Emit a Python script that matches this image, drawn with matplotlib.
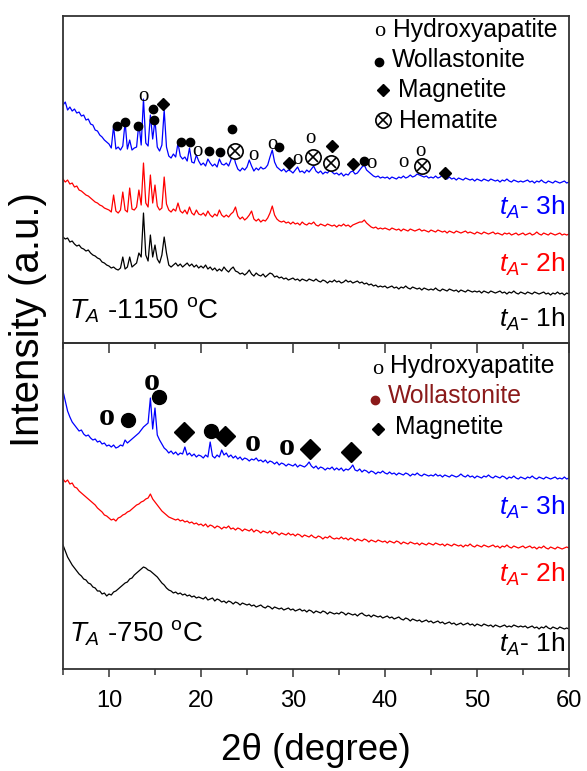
import numpy as np
import matplotlib
matplotlib.use("Agg")
import matplotlib.pyplot as plt
from matplotlib.ticker import MultipleLocator

plt.rcParams["font.family"] = ["Liberation Sans", "DejaVu Sans"]
plt.rcParams["mathtext.fontset"] = "custom"
plt.rcParams["mathtext.rm"] = "Liberation Sans"
plt.rcParams["mathtext.it"] = "Liberation Sans:italic"

# measurement grid: 2theta from 5 to 60 deg, step 0.25
TWO_THETA_START = 5.0
TWO_THETA_STEP = 0.25

# ---------------- T_A = 1150 C (upper panel), offset intensities ----------------
t1150_3h = [
    238, 241, 233, 236, 232, 234, 230, 231, 227, 228, 223, 224, 219, 218, 213, 212, 208, 206, 203, 201,
    199, 195, 217, 194, 196, 193, 197, 221, 194, 203, 193, 195, 196, 220, 198, 244, 200, 197, 228, 204,
    223, 196, 192, 198, 233, 196, 187, 185, 189, 186, 200, 187, 184, 186, 182, 195, 181, 180, 188, 182,
    178, 180, 177, 184, 180, 177, 179, 176, 184, 179, 178, 180, 177, 183, 190, 180, 174, 172, 175, 173,
    176, 183, 177, 172, 175, 173, 176, 174, 175, 178, 186, 193, 181, 176, 174, 172, 174, 171, 173, 172,
    170, 173, 176, 171, 172, 170, 173, 171, 174, 177, 172, 170, 172, 169, 171, 170, 173, 171, 169, 170,
    168, 170, 167, 169, 168, 171, 172, 169, 170, 173, 176, 178, 173, 171, 169, 167, 166, 167, 165, 166,
    165, 166, 164, 166, 165, 164, 166, 165, 167, 165, 166, 168, 166, 167, 169, 168, 167, 166, 167, 165,
    166, 165, 167, 165, 166, 168, 165, 164, 166, 164, 165, 163, 165, 164, 163, 165, 164, 163, 164, 162,
    164, 163, 162, 164, 163, 162, 164, 163, 162, 163, 161, 163, 162, 164, 162, 161, 163, 162, 161, 162,
    161, 162, 163, 161, 162, 160, 162, 161, 163, 161, 160, 162, 161, 160, 162, 161, 160, 161, 162, 160,
    161,
]
t1150_2h = [
    164, 161, 163, 159, 160, 156, 157, 153, 152, 150, 148, 147, 145, 143, 141, 140, 138, 137, 135, 134,
    133, 131, 148, 132, 130, 133, 151, 133, 131, 155, 134, 133, 136, 153, 138, 180, 140, 136, 168, 140,
    158, 137, 133, 135, 166, 139, 133, 131, 134, 132, 140, 132, 130, 133, 129, 136, 130, 128, 133, 129,
    128, 130, 127, 132, 128, 126, 129, 127, 133, 128, 126, 128, 126, 129, 131, 136, 127, 124, 126, 123,
    125, 128, 132, 124, 122, 124, 121, 123, 122, 125, 130, 137, 128, 124, 122, 121, 122, 120, 121, 119,
    121, 119, 120, 118, 121, 119, 118, 120, 119, 121, 118, 117, 119, 118, 117, 119, 118, 117, 118, 116,
    118, 117, 119, 117, 118, 116, 118, 119, 120, 121, 121, 123, 120, 118, 116, 115, 116, 114, 115, 114,
    115, 114, 113, 115, 114, 113, 114, 112, 114, 113, 112, 114, 113, 112, 113, 114, 112, 113, 112, 111,
    113, 112, 111, 113, 112, 111, 112, 110, 112, 111, 110, 112, 111, 110, 111, 112, 110, 111, 110, 109,
    111, 110, 109, 111, 110, 109, 110, 111, 109, 110, 109, 108, 110, 109, 110, 108, 109, 110, 108, 109,
    110, 108, 109, 110, 108, 109, 111, 109, 108, 110, 109, 108, 110, 109, 108, 109, 110, 108, 109, 108,
    109,
]
t1150_1h = [
    106, 104, 105, 101, 102, 99, 97, 98, 95, 94, 92, 93, 90, 88, 87, 85, 84, 81, 80, 78,
    77, 75, 76, 74, 73, 75, 86, 74, 76, 86, 76, 78, 80, 90, 86, 130, 88, 82, 108, 86,
    98, 84, 80, 88, 106, 90, 78, 76, 78, 80, 77, 79, 76, 78, 80, 77, 79, 76, 78, 75,
    77, 75, 78, 74, 76, 73, 75, 72, 74, 72, 76, 73, 71, 74, 76, 72, 71, 69, 70, 68,
    70, 73, 69, 67, 70, 68, 67, 69, 66, 68, 70, 69, 66, 67, 65, 66, 64, 65, 63, 64,
    65, 63, 64, 62, 64, 63, 62, 64, 63, 62, 64, 62, 61, 63, 62, 60, 62, 61, 63, 61,
    62, 60, 61, 63, 61, 62, 60, 61, 62, 60, 61, 59, 60, 58, 59, 57, 58, 56, 57, 56,
    57, 55, 56, 57, 55, 56, 54, 56, 55, 57, 55, 54, 56, 55, 54, 55, 53, 55, 54, 53,
    54, 53, 55, 53, 52, 54, 53, 52, 54, 53, 52, 53, 51, 53, 52, 51, 53, 52, 51, 52,
    51, 52, 50, 52, 51, 50, 52, 51, 50, 51, 52, 50, 51, 49, 51, 50, 52, 50, 49, 51,
    50, 49, 51, 50, 49, 51, 50, 49, 50, 51, 49, 50, 48, 50, 49, 51, 49, 50, 48, 50,
    49,
]

# ---------------- T_A = 750 C (lower panel) ----------------
t750_3h = [
    278, 268, 258, 252, 247, 244, 241, 238, 239, 235, 233, 234, 231, 229, 230, 227, 228, 225, 226, 223,
    224, 222, 224, 221, 222, 224, 223, 229, 226, 228, 230, 232, 234, 236, 239, 242, 244, 246, 271, 240,
    261, 234, 229, 225, 221, 219, 216, 218, 215, 217, 214, 216, 215, 222, 214, 216, 213, 215, 212, 214,
    213, 211, 214, 212, 227, 213, 211, 214, 212, 219, 214, 216, 212, 214, 211, 213, 210, 212, 209, 211,
    210, 208, 210, 209, 211, 208, 209, 207, 209, 206, 208, 207, 205, 207, 204, 206, 205, 203, 205, 204,
    203, 205, 202, 204, 203, 202, 204, 207, 203, 201, 203, 200, 202, 201, 199, 201, 200, 202, 199, 201,
    199, 201, 198, 200, 199, 201, 204, 199, 198, 200, 197, 199, 198, 196, 198, 197, 195, 197, 196, 198,
    196, 195, 197, 195, 196, 194, 196, 195, 194, 196, 195, 193, 195, 194, 196, 194, 193, 195, 194, 193,
    194, 193, 195, 193, 194, 192, 194, 193, 192, 194, 193, 192, 193, 195, 193, 192, 194, 192, 193, 191,
    193, 192, 191, 193, 192, 194, 192, 191, 193, 192, 191, 193, 192, 190, 192, 191, 193, 191, 190, 192,
    191, 190, 192, 191, 193, 191, 190, 192, 191, 190, 192, 191, 190, 191, 192, 190, 191, 190, 192, 190,
    191,
]
t750_2h = [
    190, 187, 189, 185, 186, 182, 181, 178, 176, 174, 172, 170, 168, 166, 164, 161, 159, 157, 154, 153,
    151, 149, 150, 148, 151, 152, 154, 155, 157, 158, 160, 162, 164, 165, 167, 168, 170, 171, 175, 170,
    167, 164, 161, 158, 156, 154, 152, 151, 150, 149, 150, 148, 149, 147, 148, 146, 147, 145, 146, 144,
    145, 143, 145, 142, 144, 143, 141, 143, 142, 140, 142, 141, 143, 140, 141, 139, 141, 140, 138, 140,
    139, 138, 140, 137, 139, 138, 136, 138, 137, 136, 138, 135, 137, 136, 134, 136, 135, 134, 136, 134,
    135, 133, 135, 134, 132, 134, 133, 132, 134, 132, 131, 133, 132, 130, 132, 131, 133, 131, 130, 131,
    130, 132, 130, 131, 129, 131, 130, 128, 130, 129, 128, 130, 129, 127, 129, 128, 127, 129, 128, 127,
    128, 126, 128, 127, 126, 128, 127, 125, 127, 126, 125, 127, 126, 125, 126, 124, 126, 125, 124, 126,
    125, 124, 126, 125, 124, 125, 123, 125, 124, 123, 125, 124, 123, 124, 122, 124, 123, 125, 123, 122,
    124, 123, 122, 124, 123, 122, 123, 124, 122, 123, 121, 123, 122, 124, 122, 121, 123, 122, 121, 122,
    123, 121, 122, 123, 121, 122, 120, 122, 121, 123, 121, 120, 122, 121, 120, 122, 121, 120, 121, 122,
    121,
]
t750_1h = [
    124, 118, 112, 108, 104, 101, 98, 95, 93, 90, 89, 86, 85, 82, 81, 78, 78, 75, 76, 73,
    75, 74, 77, 78, 80, 82, 84, 86, 87, 90, 91, 94, 96, 98, 100, 102, 101, 99, 98, 96,
    94, 92, 89, 86, 84, 81, 79, 78, 76, 77, 75, 76, 74, 75, 73, 74, 72, 73, 71, 72,
    71, 70, 72, 69, 70, 71, 68, 70, 69, 67, 68, 66, 68, 67, 65, 67, 66, 64, 66, 65,
    64, 65, 63, 64, 62, 63, 64, 62, 61, 63, 62, 60, 62, 61, 60, 61, 59, 60, 61, 59,
    60, 58, 59, 60, 58, 59, 57, 59, 58, 56, 58, 57, 56, 58, 57, 55, 57, 56, 55, 56,
    55, 57, 56, 54, 56, 55, 54, 55, 53, 55, 56, 54, 53, 54, 52, 54, 53, 52, 53, 51,
    52, 53, 51, 52, 50, 51, 52, 50, 49, 51, 50, 48, 50, 49, 48, 49, 47, 48, 49, 47,
    48, 46, 47, 48, 46, 47, 45, 46, 47, 45, 46, 44, 45, 46, 44, 45, 46, 44, 45, 43,
    45, 44, 43, 45, 44, 43, 44, 42, 44, 43, 42, 43, 44, 42, 43, 42, 44, 43, 42, 43,
    42, 43, 41, 42, 43, 41, 42, 40, 42, 41, 43, 41, 40, 42, 41, 40, 42, 41, 40, 41,
    40,
]

# ---------------- phase markers (2theta, marker height) ----------------
top_hap_x = [13.73, 19.60, 25.68, 27.75, 30.51, 31.85, 38.48, 41.99, 43.88]
top_hap_y = [247, 192, 188, 199, 184, 205, 180, 181, 192]
top_wol_x = [10.90, 11.74, 13.18, 14.75, 14.92, 17.79, 18.80, 20.90, 22.07, 23.40, 28.45, 37.72]
top_wol_y = [217, 221, 217, 234, 223, 201, 201, 192, 191, 214, 196, 182]
top_mag_x = [15.90, 29.53, 34.27, 36.55, 46.55]
top_mag_y = [239, 180, 197, 179, 170]
top_hem_x = [23.70, 32.21, 34.10, 43.99]
top_hem_y = [192, 186, 180, 177]

bot_hap_x = [9.80, 14.67, 25.65, 29.35]
bot_hap_y = [252, 287, 226, 222]
bot_wol_x = [12.07, 15.43, 21.10]
bot_wol_y = [249, 272, 238]
bot_mag_x = [18.15, 22.60, 31.85, 36.30]
bot_mag_y = [237, 233, 220, 217]

SERIES_COLORS = ["blue", "red", "black"]
DARK_RED = "#8b1a1a"
SPINE = "#333333"


def two_theta(y):
    return TWO_THETA_START + TWO_THETA_STEP * np.arange(len(y))


def style_spines(ax):
    for s in ax.spines.values():
        s.set_color(SPINE)
        s.set_linewidth(1.3)


def main():
    fig = plt.figure(figsize=(5.87, 7.71), dpi=100)
    ax_top = fig.add_axes([0.1073, 0.5551, 0.862, 0.4241])
    ax_bot = fig.add_axes([0.1073, 0.1323, 0.862, 0.4228])

    # curves
    for y, c in zip([t1150_3h, t1150_2h, t1150_1h], SERIES_COLORS):
        assert len(y) == 221
        ax_top.plot(two_theta(y), y, color=c, lw=0.9)
    for y, c in zip([t750_3h, t750_2h, t750_1h], SERIES_COLORS):
        assert len(y) == 221
        ax_bot.plot(two_theta(y), y, color=c, lw=0.9)

    ax_top.set_xlim(5, 60)
    ax_top.set_ylim(0, 327)
    ax_top.set_xticks([])
    ax_top.set_yticks([])
    ax_bot.set_xlim(5, 60)
    ax_bot.set_ylim(0, 326)
    ax_bot.set_yticks([])
    ax_bot.set_xticks(range(10, 61, 10))
    ax_bot.xaxis.set_minor_locator(MultipleLocator(5))
    ax_bot.tick_params(axis="x", which="major", direction="out", length=6,
                       width=1.1, color=SPINE, labelsize=17, pad=9)
    ax_bot.tick_params(axis="x", which="minor", direction="out", length=4,
                       width=1.1, color=SPINE)
    sec = ax_bot.secondary_xaxis("top")
    sec.set_xticks(range(10, 61, 10))
    sec.xaxis.set_minor_locator(MultipleLocator(5))
    sec.tick_params(axis="x", which="major", direction="in", length=7,
                    width=1.1, color=SPINE, labeltop=False)
    sec.tick_params(axis="x", which="minor", direction="in", length=4,
                    width=1.1, color=SPINE)
    for ax in (ax_top, ax_bot, sec):
        style_spines(ax)

    # ---- upper panel markers
    for x, y in zip(top_hap_x, top_hap_y):
        ax_top.text(x, y, "o", family="Liberation Serif", fontsize=15,
                    ha="center", va="center")
    ax_top.plot(top_wol_x, top_wol_y, "o", color="black", ms=6, ls="none")
    ax_top.plot(top_mag_x, top_mag_y, "D", color="black", ms=6.5, ls="none")
    ax_top.plot(top_hem_x, top_hem_y, "o", mfc="white", mec="black", mew=1.2,
                ms=11, ls="none")
    ax_top.plot(top_hem_x, top_hem_y, "x", color="black", mew=1.2, ms=7,
                ls="none")

    # upper legend
    ax_top.text(39.46, 312, "o", family="Liberation Serif", fontsize=16,
                ha="center", va="center")
    ax_top.plot([39.35], [281], "o", color="black", ms=6)
    ax_top.plot([39.78], [253], "D", color="black", ms=6.5)
    ax_top.plot([39.78], [223], "o", mfc="white", mec="black", mew=1.2, ms=11)
    ax_top.plot([39.78], [223], "x", color="black", mew=1.2, ms=7)
    ax_top.text(40.87, 306, "Hydroxyapatite", fontsize=17.8, va="baseline")
    ax_top.text(40.76, 276, "Wollastonite", fontsize=17.8, va="baseline")
    ax_top.text(41.41, 246, "Magnetite", fontsize=17.8, va="baseline")
    ax_top.text(41.52, 215, "Hematite", fontsize=17.8, va="baseline")

    ax_top.text(59.6, 128, r"$t_A$- 3h", color="blue", fontsize=19,
                ha="right", va="baseline")
    ax_top.text(59.6, 71, r"$t_A$- 2h", color="red", fontsize=19,
                ha="right", va="baseline")
    ax_top.text(59.6, 16, r"$t_A$- 1h", color="black", fontsize=19,
                ha="right", va="baseline")
    ax_top.text(5.7, 25, r"$T_A$ -1150 $^{\mathrm{o}}$C", fontsize=20,
                va="baseline")

    # ---- lower panel markers
    for x, y in zip(bot_hap_x, bot_hap_y):
        ax_bot.text(x, y, "o", family="Liberation Serif", fontweight="bold",
                    fontsize=23, ha="center", va="center")
    ax_bot.plot(bot_wol_x, bot_wol_y, "o", color="black", ms=10, ls="none")
    ax_bot.plot(bot_mag_x, bot_mag_y, "D", color="black", ms=10, ls="none")

    # lower legend
    ax_bot.text(39.24, 300, "o", family="Liberation Serif", fontsize=16,
                ha="center", va="center")
    ax_bot.plot([38.91], [269], "o", color=DARK_RED, ms=6)
    ax_bot.plot([39.24], [240], "D", color="black", ms=6.5)
    ax_bot.text(40.54, 296, "Hydroxyapatite", fontsize=17.8, va="baseline")
    ax_bot.text(40.33, 266, "Wollastonite", fontsize=17.8, va="baseline",
                color=DARK_RED)
    ax_bot.text(41.09, 235, "Magnetite", fontsize=17.8, va="baseline")

    ax_bot.text(59.6, 154, r"$t_A$- 3h", color="blue", fontsize=19,
                ha="right", va="baseline")
    ax_bot.text(59.6, 87, r"$t_A$- 2h", color="red", fontsize=19,
                ha="right", va="baseline")
    ax_bot.text(59.6, 17, r"$t_A$- 1h", color="black", fontsize=19,
                ha="right", va="baseline")
    ax_bot.text(5.7, 27, r"$T_A$ -750 $^{\mathrm{o}}$C", fontsize=20,
                va="baseline")

    fig.text(28 / 587, 1 - 320 / 771, "Intensity (a.u.)", fontsize=29,
             rotation=90, ha="center", va="center")
    fig.text(316 / 587, 1 - 750 / 771, "2\u03b8 (degree)", fontsize=26.5,
             ha="center", va="center")

    fig.savefig("out.png", dpi=100)
    plt.close(fig)


if __name__ == "__main__":
    main()
